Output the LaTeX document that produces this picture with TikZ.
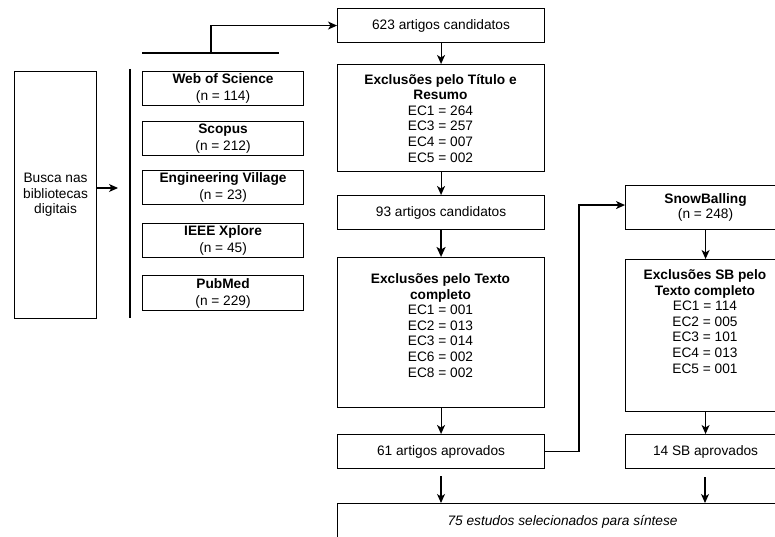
\documentclass[tikz,border=0pt]{standalone}
\usepackage{fontspec}
\setmainfont{Liberation Sans}
\usetikzlibrary{arrows.meta}
% strut that fixes the top of the first line in top-aligned text blocks
\newcommand\firststrut{\rule{0pt}{13pt}}
\begin{document}
\begin{tikzpicture}[x=1pt,y=-1pt,
  every node/.style={font=\fontsize{13.7}{15.6}\selectfont},
  frame/.style={draw, line width=1.1pt, inner sep=0pt, anchor=north west, align=center},
  txt/.style={inner sep=0pt, align=center, anchor=north},
  arr/.style={line width=1.1pt, -{Stealth[length=9pt,width=8pt,inset=2.5pt]}},
  thickarr/.style={line width=2pt, -{Stealth[length=10pt,width=9pt,inset=2.5pt]}},
  plain/.style={line width=1.1pt}]
\useasboundingbox (0,0) rectangle (775,537);
\clip (0,0) rectangle (775,537);

% search block
\node[frame, minimum width=82pt, minimum height=247pt] (busca) at (14,71)
  {Busca nas\\bibliotecas\\digitais};
\coordinate (srcin) at (118,188);
\draw[arr] (busca.east |- srcin) -- (srcin);

% bracket around the digital libraries
\coordinate (bartop) at (130,69);
\coordinate (barbot) at (130,318);
\draw[plain] (bartop) -- (barbot);
\coordinate (hleft) at (142,53);
\coordinate (hright) at (279,53);
\coordinate (bar) at (211,53);
\draw[plain] (hleft) -- (hright);

% digital libraries
\node[frame, minimum width=161pt, minimum height=34pt] (wos) at (142,71)
  {\textbf{Web of Science}\\[1.5pt](n = 114)};
\node[frame, minimum width=161pt, minimum height=34pt] (scopus) at (142,121)
  {\textbf{Scopus}\\[1.5pt](n = 212)};
\node[frame, minimum width=161pt, minimum height=34pt] (ev) at (142,170)
  {\textbf{Engineering Village}\\[1.5pt](n = 23)};
\node[frame, minimum width=161pt, minimum height=34pt] (ieee) at (142,223)
  {\textbf{IEEE Xplore}\\[1.5pt](n = 45)};
\node[frame, minimum width=161pt, minimum height=35pt] (pubmed) at (142,275)
  {\textbf{PubMed}\\[1.5pt](n = 229)};

% main selection column
\node[frame, minimum width=207pt, minimum height=34pt] (c623) at (337,8)
  {623 artigos candidatos};
\node[frame, minimum width=207pt, minimum height=107pt] (exc1) at (337,64) {};
\node[txt] at (440.5,71) {\firststrut\textbf{Exclusões pelo Título e}\\\textbf{Resumo}\\EC1 = 264\\EC3 = 257\\EC4 = 007\\EC5 = 002};
\node[frame, minimum width=207pt, minimum height=34pt] (c93) at (337,195)
  {93 artigos candidatos};
\node[frame, minimum width=207pt, minimum height=150pt] (exc2) at (337,257) {};
\node[txt] at (440.5,270.2) {\firststrut\textbf{Exclusões pelo Texto}\\\textbf{completo}\\EC1 = 001\\EC2 = 013\\EC3 = 014\\EC6 = 002\\EC8 = 002};
\node[frame, minimum width=207pt, minimum height=34pt] (c61) at (337,434)
  {61 artigos aprovados};

% snowballing column
\node[frame, minimum width=160pt, minimum height=44pt] (sb) at (625,185)
  {\textbf{SnowBalling}\\(n = 248)};
\node[frame, minimum width=160pt, minimum height=152pt] (excsb) at (625,259) {};
\node[txt] at (705,266.2) {\firststrut\textbf{Exclusões SB pelo}\\\textbf{Texto completo}\\EC1 = 114\\EC2 = 005\\EC3 = 101\\EC4 = 013\\EC5 = 001};
\node[frame, minimum width=160pt, minimum height=34pt] (c14) at (625,434)
  {14 SB aprovados};

% final result
\node[frame, minimum width=450pt, minimum height=37pt] (fin) at (337,503)
  {\itshape 75 estudos selecionados para síntese};

% connectors
\draw[arr] (bar) |- (c623.west);
\draw[arr] (c623) -- (exc1);
\draw[arr] (exc1) -- (c93);
\draw[thickarr] (c93) -- (exc2);
\draw[arr] (exc2) -- (c61);
\coordinate (turnx) at (579,0);
\draw[arr] (c61.east) -- (c61.east -| turnx) |- ([yshift=2.5pt]sb.west);
\draw[arr] (sb) -- (excsb);
\draw[arr] (excsb) -- (c14);
\coordinate (fa) at (441,476);
\coordinate (fb) at (705,477);
\draw[arr] (fa) -- (fa |- fin.north);
\draw[arr] (fb) -- (fb |- fin.north);
\end{tikzpicture}
\end{document}
